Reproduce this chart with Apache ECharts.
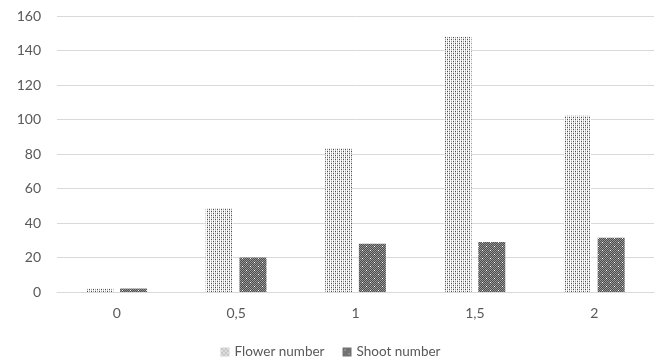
<!DOCTYPE html>
<html><head><meta charset="utf-8">
<script src="https://cdn.jsdelivr.net/npm/echarts@6/dist/echarts.min.js"></script>
<style>html,body{margin:0;padding:0;background:#fff}#c{width:661px;height:364px}</style>
</head><body><div id="c"></div>
<script>
var categories = ['0', '0,5', '1', '1,5', '2'];
var flowerNumber = [2, 48.5, 83.3, 148, 102.2];
var shootNumber = [2, 20, 28, 29, 31.5];
var seriesNames = ['Flower number', 'Shoot number'];

function makeFlower() {
  var c = document.createElement('canvas'); c.width = 4; c.height = 4;
  var g = c.getContext('2d');
  g.fillStyle = '#ffffff'; g.fillRect(0,0,4,4);
  g.fillStyle = '#4a4a4a';
  g.fillRect(1,1,1,1); g.fillRect(3,3,1,1);
  g.fillStyle = '#9a9a9a';
  g.fillRect(3,1,1,1); g.fillRect(1,3,1,1);
  g.fillStyle = '#d8d8d8';
  g.fillRect(1,0,1,1); g.fillRect(3,2,1,1); g.fillRect(1,2,1,1); g.fillRect(3,0,1,1);
  return c;
}
function makeShoot() {
  var c = document.createElement('canvas'); c.width = 8; c.height = 8;
  var g = c.getContext('2d');
  g.fillStyle = '#4e4e4e'; g.fillRect(0,0,8,8);
  g.fillStyle = '#949494';
  for (var y=0;y<8;y++) for (var x=0;x<8;x++) if ((x+y)%2===0) g.fillRect(x,y,1,1);
  g.fillStyle = '#ffffff';
  g.fillRect(2,2,1,1); g.fillRect(6,6,1,1);
  return c;
}
var flowerPat = {image: makeFlower(), repeat: 'repeat'};
var shootPat = {image: makeShoot(), repeat: 'repeat'};
var chart = echarts.init(document.getElementById('c'), null, {renderer:'canvas'});
var font = 'Lato, "Open Sans", sans-serif';
chart.setOption({
  animation: false,
  grid: {left: 57, right: 7, top: 16, bottom: 72, containLabel: false},
  legend: {
    bottom: 0, left: 'center', itemWidth: 9, itemHeight: 9, itemGap: 18, icon: 'rect',
    textStyle: {color: '#595959', fontSize: 13.5, fontFamily: font},
    data: [
      {name: seriesNames[0], itemStyle: {color: flowerPat}},
      {name: seriesNames[1], itemStyle: {color: shootPat}}
    ]
  },
  xAxis: {
    type: 'category', data: categories,
    axisLine: {lineStyle: {color: '#d9d9d9', width: 1}},
    axisTick: {show: false},
    axisLabel: {color: '#595959', fontSize: 14, fontFamily: font, margin: 14}
  },
  yAxis: {
    type: 'value', min: 0, max: 160, interval: 20,
    axisLine: {show: false}, axisTick: {show: false},
    splitLine: {lineStyle: {color: '#d9d9d9', width: 1}},
    axisLabel: {color: '#595959', fontSize: 14, fontFamily: font, margin: 16}
  },
  series: [
    {name: seriesNames[0], type: 'bar', data: flowerNumber, barWidth: 27, barGap: '25%',
     itemStyle: {color: flowerPat}},
    {name: seriesNames[1], type: 'bar', data: shootNumber, barWidth: 27,
     itemStyle: {color: shootPat}}
  ]
});
</script></body></html>
